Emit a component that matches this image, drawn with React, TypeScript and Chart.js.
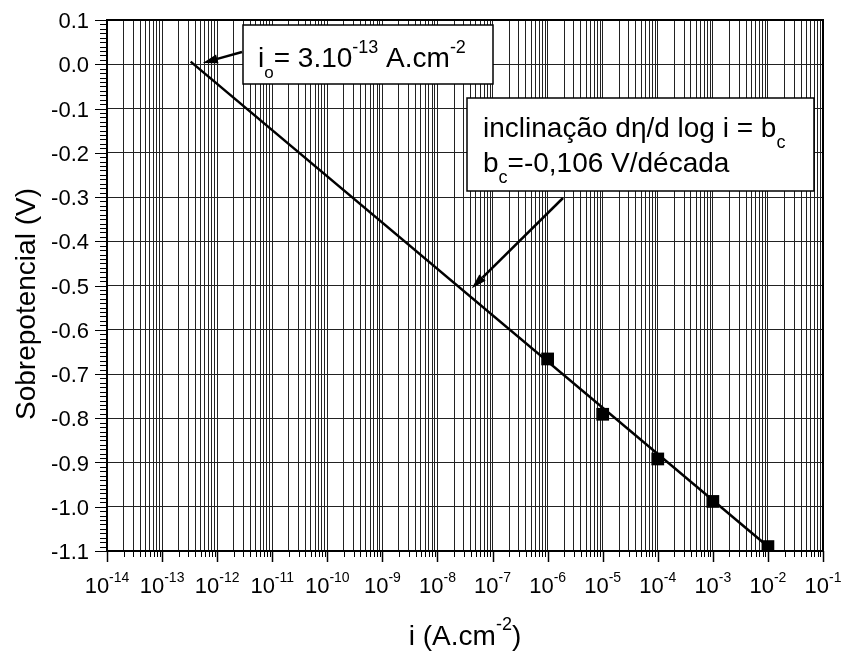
import React, { useEffect, useRef } from "react";
import { Chart, registerables } from "chart.js";

Chart.register(...registerables);

// ---- data ----
const xDecadeExponents = [-14, -13, -12, -11, -10, -9, -8, -7, -6, -5, -4, -3, -2, -1];
const xMantissas = [1, 2, 3, 4, 5, 6, 7, 8, 9];
const yTickValues = [0.1, 0.0, -0.1, -0.2, -0.3, -0.4, -0.5, -0.6, -0.7, -0.8, -0.9, -1.0, -1.1];
const yTickLabels = ["0.1", "0.0", "-0.1", "-0.2", "-0.3", "-0.4", "-0.5", "-0.6", "-0.7", "-0.8", "-0.9", "-1.0", "-1.1"];
const currentDensity = [1e-6, 1e-5, 1e-4, 1e-3, 1e-2];
const overpotential = [-0.666, -0.791, -0.892, -0.988, -1.09];
const tafelLineX = [3.3e-13, 1e-2];
const tafelLineY = [0.006, -1.09];

const FONT = '"Liberation Sans", Arial, Helvetica, sans-serif';

type Part = { t: string; size: number; dy?: number };

function drawRich(ctx: CanvasRenderingContext2D, parts: Part[], x: number, y: number, align: "left" | "center" = "left") {
  ctx.save();
  ctx.textAlign = "left";
  ctx.textBaseline = "alphabetic";
  const widths = parts.map((p) => {
    ctx.font = `${p.size}px ${FONT}`;
    return ctx.measureText(p.t).width;
  });
  const total = widths.reduce((a, b) => a + b, 0);
  let cx = align === "center" ? x - total / 2 : x;
  parts.forEach((p, i) => {
    ctx.font = `${p.size}px ${FONT}`;
    ctx.fillText(p.t, cx, y + (p.dy || 0));
    cx += widths[i];
  });
  ctx.restore();
}

function drawArrow(ctx: CanvasRenderingContext2D, x1: number, y1: number, x2: number, y2: number) {
  const ang = Math.atan2(y2 - y1, x2 - x1);
  const headLen = 15;
  const headW = 4.5;
  const bx = x2 - headLen * Math.cos(ang);
  const by = y2 - headLen * Math.sin(ang);
  ctx.save();
  ctx.strokeStyle = "#000";
  ctx.fillStyle = "#000";
  ctx.lineWidth = 2.5;
  ctx.beginPath();
  ctx.moveTo(x1, y1);
  ctx.lineTo(bx, by);
  ctx.stroke();
  ctx.beginPath();
  ctx.moveTo(x2, y2);
  ctx.lineTo(bx + headW * Math.sin(ang), by - headW * Math.cos(ang));
  ctx.lineTo(bx - headW * Math.sin(ang), by + headW * Math.cos(ang));
  ctx.closePath();
  ctx.fill();
  ctx.restore();
}

const decorPlugin = {
  id: "decor",
  afterDraw(chart: any) {
    const ctx: CanvasRenderingContext2D = chart.ctx;
    const xs = chart.scales.x;
    const ys = chart.scales.y;
    const { left, right, top, bottom } = chart.chartArea;
    ctx.save();
    ctx.strokeStyle = "#000";
    ctx.fillStyle = "#000";

    // y ticks (outside left)
    ctx.lineWidth = 1;
    for (let k = -110; k <= 10; k++) {
      const py = Math.round(ys.getPixelForValue(k / 100)) + 0.5;
      const len = k % 10 === 0 ? 12 : 7;
      ctx.beginPath();
      ctx.moveTo(left - len, py);
      ctx.lineTo(left, py);
      ctx.stroke();
    }
    // x ticks (outside bottom)
    xDecadeExponents.forEach((e) => {
      xMantissas.forEach((m) => {
        if (e === -1 && m > 1) return;
        const px = Math.round(xs.getPixelForValue(m * Math.pow(10, e))) + 0.5;
        const len = m === 1 ? 11 : 6;
        ctx.lineWidth = m === 1 ? 1.5 : 1;
        ctx.beginPath();
        ctx.moveTo(px, bottom);
        ctx.lineTo(px, bottom + len);
        ctx.stroke();
      });
    });

    // frame
    ctx.lineWidth = 2;
    ctx.strokeRect(left, top, right - left, bottom - top);

    // y tick labels
    ctx.font = `22px ${FONT}`;
    ctx.textAlign = "right";
    ctx.textBaseline = "alphabetic";
    yTickValues.forEach((v, i) => {
      const py = ys.getPixelForValue(v);
      ctx.fillText(yTickLabels[i], 89, py + 8);
    });

    // x tick labels
    xDecadeExponents.forEach((e) => {
      const px = xs.getPixelForValue(Math.pow(10, e));
      drawRich(ctx, [
        { t: "10", size: 22 },
        { t: String(e), size: 14, dy: -11 },
      ], px, 593, "center");
    });

    // axis titles
    drawRich(ctx, [
      { t: "i (A.cm", size: 28 },
      { t: "-2", size: 18, dy: -15 },
      { t: ")", size: 28 },
    ], (left + right) / 2, 645, "center");

    ctx.save();
    ctx.translate(35, 304);
    ctx.rotate(-Math.PI / 2);
    ctx.font = `28px ${FONT}`;
    ctx.textAlign = "center";
    ctx.textBaseline = "alphabetic";
    ctx.fillText("Sobrepotencial (V)", 0, 0);
    ctx.restore();

    // annotation 1
    ctx.fillStyle = "#fff";
    ctx.fillRect(243, 25, 250, 59);
    ctx.lineWidth = 1.5;
    ctx.strokeRect(243, 25, 250, 59);
    ctx.fillStyle = "#000";
    drawRich(ctx, [
      { t: "i", size: 28 },
      { t: "o", size: 17, dy: 11 },
      { t: "= 3.10", size: 28 },
      { t: "-13", size: 18, dy: -14 },
      { t: " A.cm", size: 28 },
      { t: "-2", size: 18, dy: -14 },
    ], 258, 67);
    drawArrow(ctx, 242, 52, xs.getPixelForValue(5.5e-13), ys.getPixelForValue(0.003));

    // annotation 2
    ctx.fillStyle = "#fff";
    ctx.fillRect(467, 98, 347, 93);
    ctx.lineWidth = 1.5;
    ctx.strokeRect(467, 98, 347, 93);
    ctx.fillStyle = "#000";
    drawRich(ctx, [
      { t: "inclinação dη/d log i = b", size: 28 },
      { t: "c", size: 18, dy: 11 },
    ], 483, 137);
    drawRich(ctx, [
      { t: "b", size: 28 },
      { t: "c", size: 18, dy: 11 },
      { t: "=-0,106 V/década", size: 28 },
    ], 483, 172);
    drawArrow(ctx, 563, 198, xs.getPixelForValue(4.2e-8), ys.getPixelForValue(-0.506));

    ctx.restore();
  },
};

export default function App() {
  const ref = useRef<HTMLCanvasElement | null>(null);
  useEffect(() => {
    if (!ref.current) return;
    const chart = new Chart(ref.current, {
      type: "scatter",
      data: {
        datasets: [
          {
            type: "line",
            data: tafelLineX.map((x, i) => ({ x, y: tafelLineY[i] })),
            borderColor: "#000",
            borderWidth: 2.5,
            pointRadius: 0,
            fill: false,
          } as any,
          {
            data: currentDensity.map((x, i) => ({ x, y: overpotential[i] })),
            backgroundColor: "#000",
            borderColor: "#000",
            pointStyle: "rect",
            pointRadius: 9,
            borderWidth: 0,
            showLine: false,
          },
        ],
      },
      options: {
        responsive: false,
        animation: false,
        layout: { padding: { top: 20, right: 20, left: 0, bottom: 0 } },
        plugins: { legend: { display: false }, tooltip: { enabled: false } },
        scales: {
          x: {
            type: "logarithmic",
            min: 1e-14,
            max: 1e-1,
            afterBuildTicks: (s: any) => {
              const t: any[] = [];
              xDecadeExponents.forEach((e) => {
                xMantissas.forEach((m) => {
                  if (e === -1 && m > 1) return;
                  t.push({ value: m * Math.pow(10, e) });
                });
              });
              s.ticks = t;
            },
            afterFit: (s: any) => {
              s.height = 103;
            },
            ticks: { display: false },
            grid: { color: "#222", lineWidth: 1, drawTicks: false },
            border: { display: false },
          },
          y: {
            type: "linear",
            min: -1.1,
            max: 0.1,
            afterBuildTicks: (s: any) => {
              s.ticks = yTickValues.map((v) => ({ value: v }));
            },
            afterFit: (s: any) => {
              s.width = 107;
            },
            ticks: { display: false },
            grid: { color: "#222", lineWidth: 1, drawTicks: false },
            border: { display: false },
          },
        },
      } as any,
      plugins: [decorPlugin],
    });
    return () => chart.destroy();
  }, []);
  return (
    <div style={{ position: "fixed", left: 0, top: 0, width: 843, height: 654, background: "#fff" }}>
      <canvas ref={ref} width={843} height={654} />
    </div>
  );
}
